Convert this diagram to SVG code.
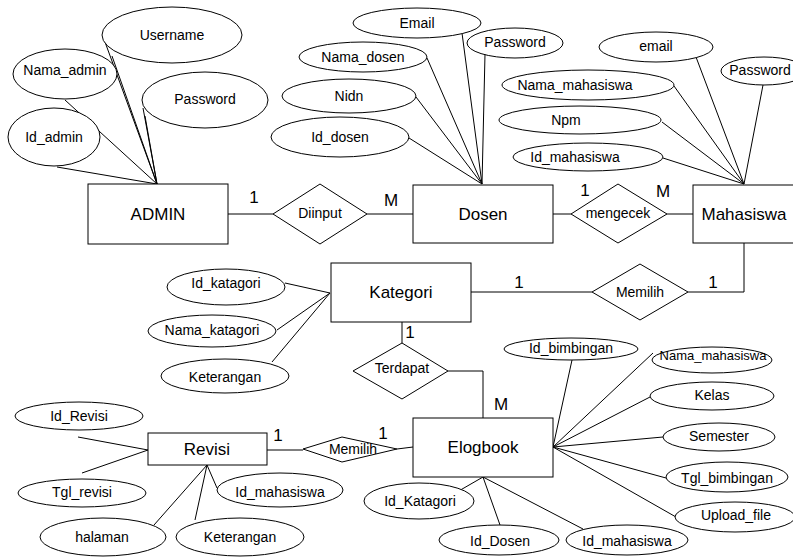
<svg xmlns="http://www.w3.org/2000/svg" width="793" height="557" viewBox="0 0 793 557">
<style>
.s{fill:#fff;stroke:#000;stroke-width:1}
.l{stroke:#000;stroke-width:1;fill:none}
text{font-family:"Liberation Sans",Arial,sans-serif;fill:#000;text-anchor:middle}
.a{font-size:14px}
.e{font-size:17px}
.c{font-size:17px}
</style>
<rect width="793" height="557" fill="#fff"/>
<g id="connectors">
<path class="l" d="M57,167L157,184M65,100L157,184M105,42L157,184M112,56L157,184M143,108L157,184M145,116L157,184"/>
<path class="l" d="M462,33L482,184M485,54L482,184M427,58L482,184M416,97L482,184M409,138L482,184"/>
<path class="l" d="M696,57L744,184M763,85L744,184M674,86L744,184M662,122L744,184M663,158L744,184"/>
<path class="l" d="M228,214H273M367,214H413M553,214H571M667,214H693"/>
<path class="l" d="M744,243V292H688M592,292H471"/>
<path class="l" d="M402,322V343M448,371H483V418"/>
<path class="l" d="M267,450H303M397,449L413,447"/>
<path class="l" d="M285,283L330,293M277,330L330,293M272,362L330,293"/>
<path class="l" d="M78,437L148,450M82,473L148,450M207,465L154,525M207,465L195,520M207,465L217,488"/>
<path class="l" d="M572,360L553,447M653,353L553,447M650,397L553,447M663,437L553,447M666,478L553,447M676,517L553,447"/>
<path class="l" d="M457,492L483,477M500,525L483,477M583,529L483,477"/>
</g>
<g id="ADMIN"><rect class="s" x="88" y="184" width="140" height="60"/><text class="e" x="158" y="220">ADMIN</text></g>
<g id="Id_admin"><ellipse class="s" cx="54" cy="137" rx="46" ry="29"/><text class="a" x="54" y="142">Id_admin</text></g>
<g id="Nama_admin"><ellipse class="s" cx="65" cy="74" rx="52" ry="25"/><text class="a" x="65" y="75">Nama_admin</text></g>
<g id="Username"><ellipse class="s" cx="172" cy="35" rx="70" ry="28"/><text class="a" x="172" y="40">Username</text></g>
<g id="Password_admin"><ellipse class="s" cx="205" cy="100" rx="63" ry="28"/><text class="a" x="205" y="104">Password</text></g>

<g id="Diinput"><polygon class="s" points="273,214 320,184 367,214 320,244"/><text class="a" x="320" y="218">Diinput</text></g>

<g id="Dosen"><rect class="s" x="413" y="185" width="140" height="58"/><text class="e" x="483" y="220">Dosen</text></g>
<g id="Email"><ellipse class="s" cx="417" cy="23" rx="64" ry="15"/><text class="a" x="417" y="28">Email</text></g>
<g id="Password_dosen"><ellipse class="s" cx="515" cy="43" rx="48" ry="15"/><text class="a" x="515" y="47">Password</text></g>
<g id="Nama_dosen"><ellipse class="s" cx="363" cy="57" rx="64" ry="15"/><text class="a" x="363" y="62">Nama_dosen</text></g>
<g id="Nidn"><ellipse class="s" cx="349" cy="96" rx="67" ry="17"/><text class="a" x="349" y="101">Nidn</text></g>
<g id="Id_dosen"><ellipse class="s" cx="340" cy="137" rx="69" ry="20"/><text class="a" x="340" y="142">Id_dosen</text></g>

<g id="mengecek"><polygon class="s" points="571,214 618,184 667,214 618,243"/><text class="a" x="618" y="218">mengecek</text></g>

<g id="Mahasiswa"><rect class="s" x="693" y="185" width="110" height="58"/><text class="e" x="744" y="220">Mahasiswa</text></g>
<g id="email_mhs"><ellipse class="s" cx="656" cy="47" rx="57" ry="15"/><text class="a" x="656" y="51">email</text></g>
<g id="Password_mhs"><ellipse class="s" cx="764" cy="71" rx="43" ry="14"/><text class="a" x="760" y="75">Password</text></g>
<g id="Nama_mahasiswa"><ellipse class="s" cx="588" cy="85" rx="86" ry="15"/><text class="a" x="575" y="90">Nama_mahasiswa</text></g>
<g id="Npm"><ellipse class="s" cx="580" cy="120" rx="81" ry="14"/><text class="a" x="566" y="125">Npm</text></g>
<g id="Id_mahasiswa"><ellipse class="s" cx="588" cy="157" rx="75" ry="14"/><text class="a" x="575" y="162">Id_mahasiswa</text></g>

<g id="Memilih_kat"><polygon class="s" points="592,292 640,264 688,292 640,320"/><text class="a" x="640" y="297">Memilih</text></g>

<g id="Kategori"><rect class="s" x="331" y="263" width="140" height="59"/><text class="e" x="401" y="298">Kategori</text></g>
<g id="Id_katagori"><ellipse class="s" cx="226" cy="287" rx="59" ry="18"/><text class="a" x="226" y="288">Id_katagori</text></g>
<g id="Nama_katagori"><ellipse class="s" cx="212" cy="331" rx="64" ry="16"/><text class="a" x="212" y="335">Nama_katagori</text></g>
<g id="Keterangan_kat"><ellipse class="s" cx="225" cy="376" rx="64" ry="17"/><text class="a" x="225" y="382">Keterangan</text></g>

<g id="Terdapat"><polygon class="s" points="353,371 402,343 448,371 402,399"/><text class="a" x="402" y="373">Terdapat</text></g>

<g id="Elogbook"><rect class="s" x="413" y="418" width="140" height="59"/><text class="e" x="483" y="453">Elogbook</text></g>
<g id="Id_bimbingan"><ellipse class="s" cx="571" cy="349" rx="67" ry="11"/><text class="a" x="571" y="353">Id_bimbingan</text></g>
<g id="Nama_mahasiswa_e"><ellipse class="s" cx="712" cy="360" rx="60" ry="13"/><text class="a" x="713" y="360" style="font-size:13px">Nama_mahasiswa</text></g>
<g id="Kelas"><ellipse class="s" cx="712" cy="396" rx="62" ry="14"/><text class="a" x="712" y="400">Kelas</text></g>
<g id="Semester"><ellipse class="s" cx="719" cy="437" rx="56" ry="14"/><text class="a" x="719" y="441">Semester</text></g>
<g id="Tgl_bimbingan"><ellipse class="s" cx="727" cy="477" rx="61" ry="15"/><text class="a" x="727" y="483">Tgl_bimbingan</text></g>
<g id="Upload_file"><ellipse class="s" cx="735" cy="517" rx="60" ry="15"/><text class="a" x="736" y="520">Upload_file</text></g>
<g id="Id_Katagori"><ellipse class="s" cx="419" cy="501" rx="55" ry="18"/><text class="a" x="420" y="506">Id_Katagori</text></g>
<g id="Id_Dosen"><ellipse class="s" cx="499" cy="540" rx="60" ry="15"/><text class="a" x="500" y="546">Id_Dosen</text></g>
<g id="Id_mahasiswa_e"><ellipse class="s" cx="627" cy="540" rx="61" ry="15"/><text class="a" x="627" y="546">Id_mahasiswa</text></g>

<g id="Memilih_rev"><polygon class="s" points="303,449 342,437 397,449 342,462"/><text class="a" x="353" y="454">Memilih</text></g>

<g id="Revisi"><rect class="s" x="148" y="433" width="119" height="32"/><text class="e" x="207" y="455">Revisi</text></g>
<g id="Id_Revisi"><ellipse class="s" cx="79" cy="416" rx="64" ry="14"/><text class="a" x="79" y="421">Id_Revisi</text></g>
<g id="Tgl_revisi"><ellipse class="s" cx="82" cy="493" rx="64" ry="14"/><text class="a" x="82" y="497">Tgl_revisi</text></g>
<g id="Id_mahasiswa_r"><ellipse class="s" cx="280" cy="490" rx="63" ry="17"/><text class="a" x="280" y="497">Id_mahasiswa</text></g>
<g id="halaman"><ellipse class="s" cx="103" cy="537" rx="63" ry="19"/><text class="a" x="102" y="542">halaman</text></g>
<g id="Keterangan_rev"><ellipse class="s" cx="240" cy="537" rx="64" ry="19"/><text class="a" x="240" y="542">Keterangan</text></g>

<g id="cardinalities">
<text class="c" x="254" y="203">1</text>
<text class="c" x="391" y="206">M</text>
<text class="c" x="585" y="196">1</text>
<text class="c" x="663" y="197">M</text>
<text class="c" x="713" y="288">1</text>
<text class="c" x="519" y="288">1</text>
<text class="c" x="410" y="338">1</text>
<text class="c" x="501" y="410">M</text>
<text class="c" x="278" y="441">1</text>
<text class="c" x="383" y="439">1</text>
</g>
</svg>
